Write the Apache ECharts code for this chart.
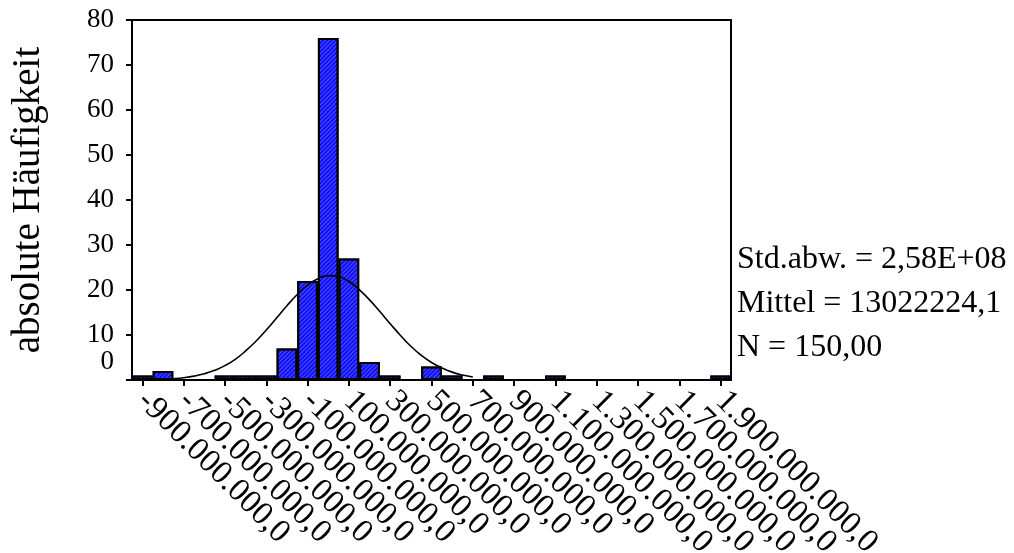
<!DOCTYPE html>
<html>
<head>
<meta charset="utf-8">
<script src="https://cdn.jsdelivr.net/npm/echarts@6/dist/echarts.min.js"></script>
<style>
  html, body { margin: 0; padding: 0; background: #fff; }
  #chart { width: 1014px; height: 553px; }
</style>
</head>
<body>
<div id="chart"></div>
<script>
// bin labels (bin centres, 100.000.000 wide bins)
var binLabels = [
  '-900.000.000,0', '-800.000.000,0', '-700.000.000,0', '-600.000.000,0', '-500.000.000,0',
  '-400.000.000,0', '-300.000.000,0', '-200.000.000,0', '-100.000.000,0', '0,0',
  '100.000.000,0', '200.000.000,0', '300.000.000,0', '400.000.000,0', '500.000.000,0',
  '600.000.000,0', '700.000.000,0', '800.000.000,0', '900.000.000,0', '1.000.000.000,0',
  '1.100.000.000,0', '1.200.000.000,0', '1.300.000.000,0', '1.400.000.000,0', '1.500.000.000,0',
  '1.600.000.000,0', '1.700.000.000,0', '1.800.000.000,0', '1.900.000.000,0'
];
// absolute counts per bin
var counts = [1, 2, 0, 0, 1, 1, 1, 7, 22, 76, 27, 4, 1, 0, 3, 1, 0, 1, 0, 0, 1, 0, 0, 0, 0, 0, 0, 0, 1];

// normal curve (x in millions)
var curveX = [-800, -750, -700, -650, -600, -550, -500, -450, -400, -350, -300, -250, -200, -150, -100, -50,
  0, 50, 100, 150, 200, 250, 300, 350, 400, 450, 500, 550, 600, 650, 700];
var curveY = [0.16, 0.29, 0.51, 0.86, 1.38, 2.15, 3.2, 4.6, 6.45, 8.6, 11.1, 13.8, 16.5, 19.0, 21.1, 22.5,
  23.2, 23.0, 21.9, 20.1, 17.8, 15.2, 12.5, 9.9, 7.5, 5.5, 3.9, 2.7, 1.75, 1.1, 0.67];

var statLines = ['Std.abw. = 2,58E+08', 'Mittel = 13022224,1', 'N = 150,00'];

var serif = '"Liberation Serif", "DejaVu Serif", serif';

var curveData = [];
for (var i = 0; i < curveX.length; i++) {
  curveData.push([curveX[i], curveY[i]]);
}

var chart = echarts.init(document.getElementById('chart'));
chart.setOption({
  animation: false,
  backgroundColor: '#fff',
  grid: {
    left: 132, right: 283, top: 20, bottom: 173,
    show: true, borderColor: '#000', borderWidth: 2,
    outerBoundsMode: 'none'
  },
  xAxis: [{
    type: 'category',
    data: binLabels,
    boundaryGap: true,
    axisLine: { show: true, onZero: false, lineStyle: { color: '#000', width: 2 } },
    axisTick: { show: true, interval: 1, alignWithLabel: true, length: 6, lineStyle: { color: '#000', width: 2 } },
    axisLabel: {
      interval: 0, rotate: -45, margin: 16,
      hideOverlap: false,
      formatter: function (v, idx) { return idx % 2 === 0 ? v : ''; },
      fontFamily: serif, fontSize: 33, color: '#000'
    },
    splitLine: { show: false }
  }, {
    type: 'value',
    min: -950, max: 1950,
    show: false
  }],
  yAxis: {
    type: 'value',
    min: 0, max: 80, interval: 10,
    name: 'absolute Häufigkeit',
    nameLocation: 'middle',
    nameGap: 84,
    nameTextStyle: { fontFamily: serif, fontSize: 39, color: '#000' },
    axisLine: { show: true, onZero: false, lineStyle: { color: '#000', width: 2 } },
    axisTick: { show: true, length: 6, lineStyle: { color: '#000', width: 2 } },
    axisLabel: {
      margin: 18,
      fontFamily: serif, fontSize: 27, color: '#000',
      formatter: function (v) { return v === 0 ? '{z|0}' : String(v); },
      rich: { z: { fontFamily: serif, fontSize: 27, color: '#000', padding: [0, 0, 36, 0] } }
    },
    splitLine: { show: false }
  },
  series: [{
    type: 'bar',
    data: counts,
    barCategoryGap: 0,
    itemStyle: {
      color: '#1010f8',
      borderColor: '#000',
      borderWidth: 2,
      decal: {
        symbol: 'rect',
        symbolSize: 1,
        dashArrayX: [1, 0],
        dashArrayY: [1, 2],
        rotation: -Math.PI / 4,
        color: 'rgba(90,90,255,0.85)'
      }
    }
  }, {
    type: 'line',
    xAxisIndex: 1,
    data: curveData,
    smooth: true,
    showSymbol: false,
    z: 5,
    lineStyle: { color: '#000', width: 1.6 }
  }],
  graphic: statLines.map(function (t, i) {
    return {
      type: 'text',
      left: 737,
      top: 244 + i * 44,
      style: { text: t, font: '32px ' + serif, fill: '#000' }
    };
  })
});
</script>
</body>
</html>
